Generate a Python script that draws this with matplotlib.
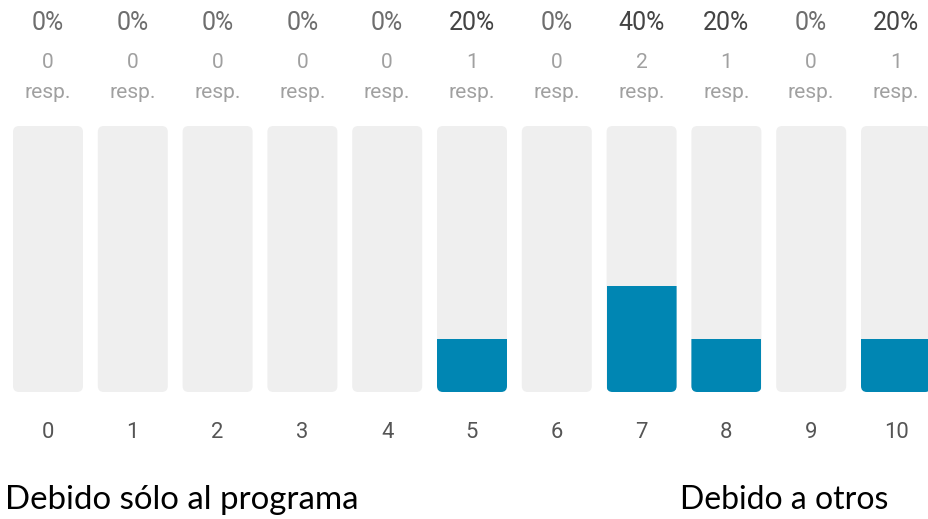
import matplotlib
matplotlib.use('Agg')
import matplotlib.pyplot as plt
from matplotlib.patches import FancyBboxPatch

# Data
categories = ['0', '1', '2', '3', '4', '5', '6', '7', '8', '9', '10']
responses = [0, 0, 0, 0, 0, 1, 0, 2, 1, 0, 1]
percentages = [0, 0, 0, 0, 0, 20, 0, 40, 20, 0, 20]
left_label = 'Debido sólo al programa'
right_label = 'Debido a otros'

# Colours
track_color = '#efefef'
fill_color = '#0086b3'

# dpi 72 so one point is one pixel
dpi = 72
fig = plt.figure(figsize=(928 / dpi, 519 / dpi), dpi=dpi)

px_per_unit = 84.8                                  # horizontal spacing of bars
x_left = -48 / px_per_unit
x_right = (928 - 48) / px_per_unit
ax = fig.add_axes([0, (519 - 392) / 519, 1, 266 / 519])
ax.set_xlim(x_left, x_right)
ax.set_ylim(0, 100)
ax.axis('off')

bar_width = 70 / px_per_unit
radius = 6 / px_per_unit
aspect = (100 / 266) / (1 / px_per_unit)

for i, (cat, n, pct) in enumerate(zip(categories, responses, percentages)):
    x0 = i - bar_width / 2
    # background track with rounded corners
    track = FancyBboxPatch((x0, 0), bar_width, 100,
                           boxstyle=f'round,pad=0,rounding_size={radius}',
                           mutation_aspect=aspect, facecolor=track_color,
                           edgecolor='none', clip_on=False)
    ax.add_patch(track)
    # filled part, clipped to the track so only the bottom is rounded
    if pct > 0:
        bars = ax.bar(i, pct, width=bar_width, color=fill_color, linewidth=0)
        for b in bars:
            b.set_clip_path(track)

    # labels above the bars
    pct_color = '#444444' if pct > 0 else '#6e6e6e'
    ax.annotate(f'{pct}%', (i, 1), xycoords=('data', 'axes fraction'),
                xytext=(0, 103), textcoords='offset points', ha='center', va='center',
                fontsize=25, color=pct_color, family='Roboto')
    ax.annotate(str(n), (i, 1), xycoords=('data', 'axes fraction'),
                xytext=(0, 63), textcoords='offset points', ha='center', va='center',
                fontsize=21, color='#a0a0a0', family='Roboto')
    ax.annotate('resp.', (i, 1), xycoords=('data', 'axes fraction'),
                xytext=(0, 33), textcoords='offset points', ha='center', va='center',
                fontsize=21, color='#a0a0a0', family='Roboto')
    # category label under the bar
    ax.annotate(cat, (i, 0), xycoords=('data', 'axes fraction'),
                xytext=(0, -40), textcoords='offset points', ha='center', va='center',
                fontsize=22, color='#555555', family='Roboto')

# scale end captions
fig.text(5 / 928, 1 - 500 / 519, left_label, ha='left', va='center',
         fontsize=33, color='black', family='Lato')
fig.text(680 / 928, 1 - 500 / 519, right_label, ha='left', va='center',
         fontsize=32, color='black', family='Lato')

fig.savefig('out.png', dpi=dpi)
